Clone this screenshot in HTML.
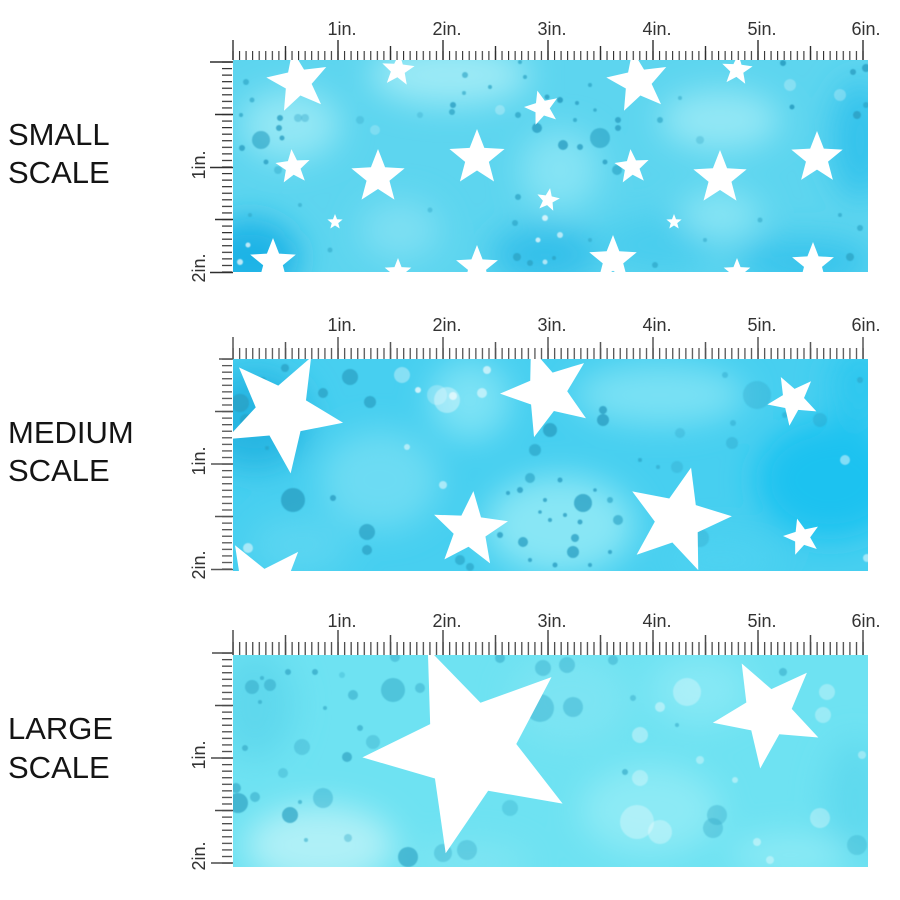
<!DOCTYPE html>
<html><head><meta charset="utf-8"><style>
html,body{margin:0;padding:0;background:#fff;}
svg{display:block;}
</style></head><body>
<svg width="900" height="900" viewBox="0 0 900 900" xmlns="http://www.w3.org/2000/svg">
<defs>
<path id="st" d="M0,-1 L0.253,-0.348 L0.951,-0.309 L0.409,0.133 L0.588,0.809 L0,0.43 L-0.588,0.809 L-0.409,0.133 L-0.951,-0.309 L-0.253,-0.348 Z"/>
<clipPath id="c1"><rect x="233" y="60" width="635" height="212"/></clipPath>
<clipPath id="c2"><rect x="233" y="359" width="635" height="212"/></clipPath>
<clipPath id="c3"><rect x="233" y="655" width="635" height="212"/></clipPath>
<filter id="bl" x="-60%" y="-60%" width="220%" height="220%"><feGaussianBlur stdDeviation="16"/></filter>
<filter id="bs" x="-50%" y="-50%" width="200%" height="200%"><feGaussianBlur stdDeviation="0.6"/></filter>
<pattern id="h1" x="232.4" y="0" width="6.5625" height="1000" patternUnits="userSpaceOnUse"><rect width="1.1" height="1000" fill="#2e2e2e"/></pattern>
<pattern id="h2" x="232.4" y="0" width="6.5625" height="1000" patternUnits="userSpaceOnUse"><rect width="1.3" height="1000" fill="#555"/></pattern>
<pattern id="h3" x="232.4" y="0" width="6.5625" height="1000" patternUnits="userSpaceOnUse"><rect width="1.3" height="1000" fill="#4a4a4a"/></pattern>
<pattern id="v1" x="0" y="61.4" width="10" height="6.5625" patternUnits="userSpaceOnUse"><rect width="10" height="1.2" fill="#2e2e2e"/></pattern>
<pattern id="v2" x="0" y="358.4" width="10" height="6.5625" patternUnits="userSpaceOnUse"><rect width="10" height="1.3" fill="#555"/></pattern>
<pattern id="v3" x="0" y="652.4" width="10" height="6.5625" patternUnits="userSpaceOnUse"><rect width="10" height="1.3" fill="#4a4a4a"/></pattern>
</defs>
<rect width="900" height="900" fill="#fff"/>

<g font-family="Liberation Sans, Arial, sans-serif" font-size="31" fill="#141414">
<text x="8" y="145">SMALL</text>
<text x="8" y="183">SCALE</text>
<text x="8" y="443">MEDIUM</text>
<text x="8" y="481">SCALE</text>
<text x="8" y="739">LARGE</text>
<text x="8" y="778">SCALE</text>
</g>

<g clip-path="url(#c1)">
<rect x="233" y="60" width="635" height="212" fill="#5dd5ef"/>
<g filter="url(#bl)">
<ellipse cx="250" cy="258" rx="50" ry="40" fill="#1fb3e6"/>
<ellipse cx="450" cy="75" rx="80" ry="30" fill="#9ceaf6"/>
<ellipse cx="290" cy="125" rx="50" ry="35" fill="#93e7f5"/>
<ellipse cx="545" cy="255" rx="55" ry="30" fill="#34c0ea"/>
<ellipse cx="560" cy="170" rx="40" ry="40" fill="#84e3f4"/>
<ellipse cx="720" cy="120" rx="60" ry="30" fill="#93e7f5"/>
<ellipse cx="860" cy="140" rx="30" ry="60" fill="#36c3ec"/>
<ellipse cx="805" cy="262" rx="70" ry="25" fill="#38c4ec"/>
<ellipse cx="400" cy="230" rx="40" ry="30" fill="#7ddff3"/>
<ellipse cx="660" cy="245" rx="60" ry="30" fill="#4acdee"/>
<ellipse cx="720" cy="215" rx="40" ry="25" fill="#86e4f4"/>
</g>
<g fill="#2a9fc2" filter="url(#bs)">
<circle cx="261" cy="140" r="9" opacity="0.6"/>
<circle cx="280" cy="118" r="3" opacity="0.8"/>
<circle cx="279" cy="128" r="3" opacity="0.8"/>
<circle cx="282" cy="138" r="2.5" opacity="0.8"/>
<circle cx="242" cy="148" r="3" opacity="0.8"/>
<circle cx="246" cy="82" r="3" opacity="0.6"/>
<circle cx="252" cy="100" r="2.5" opacity="0.6"/>
<circle cx="241" cy="115" r="2" opacity="0.7"/>
<circle cx="266" cy="162" r="2.5" opacity="0.8"/>
<circle cx="278" cy="170" r="4" opacity="0.4"/>
<circle cx="298" cy="118" r="4" opacity="0.35"/>
<circle cx="305" cy="118" r="4" opacity="0.35"/>
<circle cx="453" cy="105" r="3" opacity="0.8"/>
<circle cx="465" cy="75" r="3" opacity="0.6"/>
<circle cx="464" cy="93" r="2" opacity="0.6"/>
<circle cx="452" cy="112" r="3" opacity="0.7"/>
<circle cx="520" cy="62" r="2" opacity="0.7"/>
<circle cx="547" cy="97" r="2.5" opacity="0.8"/>
<circle cx="560" cy="100" r="3" opacity="0.9"/>
<circle cx="577" cy="103" r="2" opacity="0.8"/>
<circle cx="537" cy="128" r="5" opacity="0.8"/>
<circle cx="563" cy="145" r="5" opacity="0.8"/>
<circle cx="600" cy="138" r="10" opacity="0.6"/>
<circle cx="580" cy="147" r="3" opacity="0.8"/>
<circle cx="618" cy="120" r="3" opacity="0.8"/>
<circle cx="618" cy="128" r="3" opacity="0.8"/>
<circle cx="605" cy="162" r="2.5" opacity="0.8"/>
<circle cx="617" cy="170" r="5" opacity="0.6"/>
<circle cx="518" cy="115" r="3" opacity="0.7"/>
<circle cx="525" cy="77" r="2" opacity="0.7"/>
<circle cx="490" cy="87" r="2" opacity="0.7"/>
<circle cx="590" cy="85" r="2" opacity="0.7"/>
<circle cx="575" cy="120" r="2" opacity="0.7"/>
<circle cx="595" cy="110" r="1.8" opacity="0.7"/>
<circle cx="783" cy="63" r="3" opacity="0.9"/>
<circle cx="792" cy="107" r="2.5" opacity="0.9"/>
<circle cx="857" cy="115" r="4" opacity="0.8"/>
<circle cx="853" cy="72" r="3" opacity="0.8"/>
<circle cx="866" cy="68" r="4" opacity="0.8"/>
<circle cx="866" cy="105" r="3" opacity="0.6"/>
<circle cx="518" cy="197" r="3" opacity="0.7"/>
<circle cx="515" cy="223" r="3" opacity="0.6"/>
<circle cx="517" cy="257" r="4" opacity="0.7"/>
<circle cx="530" cy="263" r="3" opacity="0.7"/>
<circle cx="554" cy="258" r="2" opacity="0.7"/>
<circle cx="850" cy="257" r="4" opacity="0.7"/>
<circle cx="860" cy="228" r="3" opacity="0.6"/>
<circle cx="840" cy="215" r="2" opacity="0.6"/>
<circle cx="660" cy="120" r="3" opacity="0.6"/>
<circle cx="680" cy="98" r="2" opacity="0.5"/>
<circle cx="700" cy="140" r="4" opacity="0.3"/>
<circle cx="760" cy="220" r="2.5" opacity="0.5"/>
<circle cx="705" cy="240" r="2" opacity="0.5"/>
<circle cx="655" cy="265" r="3" opacity="0.6"/>
<circle cx="590" cy="240" r="2" opacity="0.5"/>
<circle cx="430" cy="210" r="2.5" opacity="0.4"/>
<circle cx="330" cy="250" r="2.5" opacity="0.5"/>
<circle cx="360" cy="120" r="4" opacity="0.3"/>
<circle cx="420" cy="115" r="3" opacity="0.3"/>
<circle cx="250" cy="215" r="2" opacity="0.5"/>
<circle cx="300" cy="205" r="2" opacity="0.5"/>
</g>
<g fill="#ffffff" filter="url(#bs)">
<circle cx="545" cy="218" r="3" opacity="0.7"/>
<circle cx="538" cy="240" r="2.5" opacity="0.7"/>
<circle cx="560" cy="235" r="3" opacity="0.6"/>
<circle cx="545" cy="262" r="2.5" opacity="0.6"/>
<circle cx="248" cy="245" r="2.5" opacity="0.7"/>
<circle cx="240" cy="262" r="3" opacity="0.7"/>
<circle cx="500" cy="110" r="5" opacity="0.25"/>
<circle cx="375" cy="130" r="5" opacity="0.2"/>
<circle cx="790" cy="85" r="6" opacity="0.25"/>
<circle cx="840" cy="95" r="6" opacity="0.25"/>
</g>
<g fill="#fff">
<use href="#st" transform="translate(298,82) rotate(-10) scale(32)"/>
<use href="#st" transform="translate(398,70) rotate(5) scale(17)"/>
<use href="#st" transform="translate(542,108) rotate(-15) scale(18)"/>
<use href="#st" transform="translate(638,82) rotate(-10) scale(32)"/>
<use href="#st" transform="translate(737,70) rotate(5) scale(16)"/>
<use href="#st" transform="translate(477,158) scale(29)"/>
<use href="#st" transform="translate(293,167) rotate(-5) scale(18)"/>
<use href="#st" transform="translate(378,177) scale(28)"/>
<use href="#st" transform="translate(632,167) rotate(-5) scale(18)"/>
<use href="#st" transform="translate(720,178) scale(28)"/>
<use href="#st" transform="translate(817,158) scale(27)"/>
<use href="#st" transform="translate(335,222) scale(8)"/>
<use href="#st" transform="translate(548,200) rotate(10) scale(12)"/>
<use href="#st" transform="translate(674,222) scale(8)"/>
<use href="#st" transform="translate(273,262) scale(24)"/>
<use href="#st" transform="translate(398,272) scale(14)"/>
<use href="#st" transform="translate(477,267) scale(22)"/>
<use href="#st" transform="translate(613,260) scale(25)"/>
<use href="#st" transform="translate(737,272) scale(14)"/>
<use href="#st" transform="translate(813,264) scale(22)"/>
</g>
</g>

<rect x="232" y="51" width="633" height="9" fill="url(#h1)"/>
<g stroke="#2e2e2e" stroke-width="1.4">
<line x1="233" y1="40" x2="233" y2="60"/>
<line x1="338" y1="40" x2="338" y2="60"/>
<line x1="443" y1="40" x2="443" y2="60"/>
<line x1="548" y1="40" x2="548" y2="60"/>
<line x1="653" y1="40" x2="653" y2="60"/>
<line x1="758" y1="40" x2="758" y2="60"/>
<line x1="863" y1="40" x2="863" y2="60"/>
<line x1="285.5" y1="46" x2="285.5" y2="60"/>
<line x1="390.5" y1="46" x2="390.5" y2="60"/>
<line x1="495.5" y1="46" x2="495.5" y2="60"/>
<line x1="600.5" y1="46" x2="600.5" y2="60"/>
<line x1="705.5" y1="46" x2="705.5" y2="60"/>
<line x1="810.5" y1="46" x2="810.5" y2="60"/>
</g>
<rect x="222" y="61" width="10" height="212" fill="url(#v1)"/>
<g stroke="#2e2e2e" stroke-width="1.5">
<line x1="210" y1="62" x2="233" y2="62"/>
<line x1="210" y1="167.5" x2="233" y2="167.5"/>
<line x1="210" y1="272.5" x2="233" y2="272.5"/>
<line x1="215" y1="114.5" x2="233" y2="114.5"/>
<line x1="215" y1="219.5" x2="233" y2="219.5"/>
</g>
<g font-family="Liberation Sans, Arial, sans-serif" font-size="18" fill="#333" text-anchor="middle">
<text x="342" y="35">1in.</text>
<text x="447" y="35">2in.</text>
<text x="552" y="35">3in.</text>
<text x="657" y="35">4in.</text>
<text x="762" y="35">5in.</text>
<text x="866" y="35">6in.</text>
<text transform="translate(205,165) rotate(-90)">1in.</text>
<text transform="translate(205,268) rotate(-90)">2in.</text>
</g>

<g clip-path="url(#c2)">
<rect x="233" y="359" width="635" height="212" fill="#47cff0"/>
<g filter="url(#bl)">
<ellipse cx="255" cy="420" rx="55" ry="50" fill="#28b6e2"/>
<ellipse cx="380" cy="480" rx="60" ry="50" fill="#6cdbf3"/>
<ellipse cx="560" cy="525" rx="75" ry="50" fill="#88e6f5"/>
<ellipse cx="660" cy="395" rx="85" ry="30" fill="#7ae1f4"/>
<ellipse cx="830" cy="480" rx="75" ry="60" fill="#1cc2f0"/>
<ellipse cx="860" cy="385" rx="30" ry="40" fill="#2ec7ef"/>
<ellipse cx="300" cy="545" rx="50" ry="30" fill="#5ad5f1"/>
<ellipse cx="470" cy="400" rx="40" ry="40" fill="#7ce2f5"/>
<ellipse cx="720" cy="560" rx="60" ry="25" fill="#4ed2f1"/>
</g>
<g fill="#2a9ec2" filter="url(#bs)">
<circle cx="350" cy="377" r="8" opacity="0.7"/>
<circle cx="285" cy="368" r="4" opacity="0.7"/>
<circle cx="323" cy="393" r="5" opacity="0.7"/>
<circle cx="370" cy="402" r="6" opacity="0.7"/>
<circle cx="293" cy="500" r="12" opacity="0.75"/>
<circle cx="333" cy="498" r="3" opacity="0.8"/>
<circle cx="367" cy="532" r="8" opacity="0.7"/>
<circle cx="367" cy="550" r="5" opacity="0.7"/>
<circle cx="240" cy="403" r="9" opacity="0.7"/>
<circle cx="246" cy="420" r="6" opacity="0.6"/>
<circle cx="263" cy="380" r="3" opacity="0.6"/>
<circle cx="267" cy="448" r="2" opacity="0.6"/>
<circle cx="603" cy="420" r="6" opacity="0.8"/>
<circle cx="603" cy="410" r="4" opacity="0.8"/>
<circle cx="550" cy="430" r="7" opacity="0.75"/>
<circle cx="535" cy="450" r="6" opacity="0.6"/>
<circle cx="530" cy="478" r="5" opacity="0.6"/>
<circle cx="583" cy="503" r="9" opacity="0.75"/>
<circle cx="580" cy="522" r="2.5" opacity="0.8"/>
<circle cx="508" cy="493" r="2" opacity="0.8"/>
<circle cx="520" cy="490" r="3" opacity="0.8"/>
<circle cx="545" cy="500" r="2" opacity="0.8"/>
<circle cx="560" cy="480" r="2.5" opacity="0.8"/>
<circle cx="500" cy="535" r="3" opacity="0.8"/>
<circle cx="523" cy="542" r="5" opacity="0.75"/>
<circle cx="573" cy="552" r="6" opacity="0.75"/>
<circle cx="575" cy="538" r="4" opacity="0.75"/>
<circle cx="610" cy="552" r="2" opacity="0.8"/>
<circle cx="618" cy="520" r="5" opacity="0.6"/>
<circle cx="610" cy="500" r="3" opacity="0.6"/>
<circle cx="550" cy="520" r="2" opacity="0.8"/>
<circle cx="540" cy="512" r="1.8" opacity="0.8"/>
<circle cx="565" cy="515" r="2" opacity="0.8"/>
<circle cx="595" cy="490" r="1.8" opacity="0.8"/>
<circle cx="530" cy="560" r="2" opacity="0.8"/>
<circle cx="555" cy="565" r="2.5" opacity="0.8"/>
<circle cx="590" cy="565" r="2" opacity="0.8"/>
<circle cx="640" cy="460" r="2" opacity="0.6"/>
<circle cx="732" cy="443" r="6" opacity="0.35"/>
<circle cx="733" cy="423" r="3" opacity="0.4"/>
<circle cx="725" cy="375" r="3" opacity="0.4"/>
<circle cx="757" cy="395" r="14" opacity="0.3"/>
<circle cx="820" cy="420" r="7" opacity="0.35"/>
<circle cx="785" cy="415" r="3" opacity="0.4"/>
<circle cx="680" cy="433" r="5" opacity="0.3"/>
<circle cx="677" cy="467" r="6" opacity="0.3"/>
<circle cx="700" cy="538" r="9" opacity="0.3"/>
<circle cx="658" cy="467" r="2" opacity="0.5"/>
<circle cx="460" cy="560" r="5" opacity="0.6"/>
<circle cx="470" cy="567" r="4" opacity="0.6"/>
<circle cx="860" cy="380" r="3" opacity="0.5"/>
</g>
<g fill="#ffffff" filter="url(#bs)">
<circle cx="402" cy="375" r="8" opacity="0.35"/>
<circle cx="418" cy="390" r="3" opacity="0.7"/>
<circle cx="447" cy="400" r="13" opacity="0.35"/>
<circle cx="453" cy="396" r="4" opacity="0.6"/>
<circle cx="407" cy="447" r="3" opacity="0.5"/>
<circle cx="443" cy="485" r="4" opacity="0.5"/>
<circle cx="248" cy="548" r="5" opacity="0.5"/>
<circle cx="487" cy="370" r="4" opacity="0.6"/>
<circle cx="482" cy="393" r="5" opacity="0.5"/>
<circle cx="845" cy="460" r="5" opacity="0.45"/>
<circle cx="867" cy="558" r="4" opacity="0.5"/>
<circle cx="437" cy="395" r="10" opacity="0.25"/>
</g>
<g fill="#fff">
<use href="#st" transform="translate(282,412) rotate(28) scale(62)"/>
<use href="#st" transform="translate(547,392) rotate(-20) scale(47)"/>
<use href="#st" transform="translate(793,400) rotate(-28) scale(26)"/>
<use href="#st" transform="translate(470,530) rotate(5) scale(39)"/>
<use href="#st" transform="translate(678,520) rotate(14) scale(54)"/>
<use href="#st" transform="translate(802,537) rotate(-15) scale(19)"/>
<use href="#st" transform="translate(262,592) rotate(-30) scale(54)"/>
</g>
</g>

<rect x="232" y="348" width="633" height="11" fill="url(#h2)"/>
<g stroke="#555" stroke-width="1.5">
<line x1="233" y1="337" x2="233" y2="359"/>
<line x1="338" y1="337" x2="338" y2="359"/>
<line x1="443" y1="337" x2="443" y2="359"/>
<line x1="548" y1="337" x2="548" y2="359"/>
<line x1="653" y1="337" x2="653" y2="359"/>
<line x1="758" y1="337" x2="758" y2="359"/>
<line x1="863" y1="337" x2="863" y2="359"/>
<line x1="285.5" y1="342" x2="285.5" y2="359"/>
<line x1="390.5" y1="342" x2="390.5" y2="359"/>
<line x1="495.5" y1="342" x2="495.5" y2="359"/>
<line x1="600.5" y1="342" x2="600.5" y2="359"/>
<line x1="705.5" y1="342" x2="705.5" y2="359"/>
<line x1="810.5" y1="342" x2="810.5" y2="359"/>
</g>
<rect x="222" y="358" width="10" height="213" fill="url(#v2)"/>
<g stroke="#555" stroke-width="1.5">
<line x1="219" y1="359" x2="233" y2="359"/>
<line x1="211" y1="464" x2="233" y2="464"/>
<line x1="211" y1="569.5" x2="233" y2="569.5"/>
<line x1="215" y1="411.5" x2="233" y2="411.5"/>
<line x1="215" y1="516.5" x2="233" y2="516.5"/>
</g>
<g font-family="Liberation Sans, Arial, sans-serif" font-size="18" fill="#333" text-anchor="middle">
<text x="342" y="331">1in.</text>
<text x="447" y="331">2in.</text>
<text x="552" y="331">3in.</text>
<text x="657" y="331">4in.</text>
<text x="762" y="331">5in.</text>
<text x="866" y="331">6in.</text>
<text transform="translate(205,461) rotate(-90)">1in.</text>
<text transform="translate(205,565) rotate(-90)">2in.</text>
</g>

<g clip-path="url(#c3)">
<rect x="233" y="655" width="635" height="212" fill="#6ee2f2"/>
<g filter="url(#bl)">
<ellipse cx="320" cy="845" rx="75" ry="40" fill="#aff0f7"/>
<ellipse cx="255" cy="705" rx="40" ry="55" fill="#5fd8ed"/>
<ellipse cx="570" cy="700" rx="60" ry="45" fill="#7ce4f3"/>
<ellipse cx="650" cy="810" rx="70" ry="45" fill="#8ceaf5"/>
<ellipse cx="855" cy="800" rx="30" ry="60" fill="#5ed9ee"/>
<ellipse cx="470" cy="862" rx="60" ry="20" fill="#7ee5f3"/>
<ellipse cx="790" cy="855" rx="60" ry="20" fill="#8ceaf5"/>
<ellipse cx="700" cy="690" rx="50" ry="35" fill="#85e8f5"/>
</g>
<g fill="#37abc9" filter="url(#bs)">
<circle cx="252" cy="687" r="7" opacity="0.6"/>
<circle cx="270" cy="685" r="6" opacity="0.6"/>
<circle cx="260" cy="702" r="2" opacity="0.7"/>
<circle cx="288" cy="672" r="3" opacity="0.8"/>
<circle cx="262" cy="678" r="2" opacity="0.7"/>
<circle cx="315" cy="672" r="3" opacity="0.8"/>
<circle cx="342" cy="675" r="3" opacity="0.35"/>
<circle cx="353" cy="695" r="5" opacity="0.6"/>
<circle cx="393" cy="690" r="12" opacity="0.55"/>
<circle cx="420" cy="688" r="5" opacity="0.5"/>
<circle cx="395" cy="657" r="5" opacity="0.5"/>
<circle cx="325" cy="708" r="2" opacity="0.7"/>
<circle cx="360" cy="728" r="3" opacity="0.7"/>
<circle cx="373" cy="742" r="7" opacity="0.4"/>
<circle cx="302" cy="747" r="8" opacity="0.4"/>
<circle cx="347" cy="757" r="5" opacity="0.8"/>
<circle cx="245" cy="748" r="3" opacity="0.7"/>
<circle cx="283" cy="773" r="5" opacity="0.4"/>
<circle cx="238" cy="803" r="10" opacity="0.8"/>
<circle cx="236" cy="788" r="5" opacity="0.7"/>
<circle cx="255" cy="797" r="5" opacity="0.6"/>
<circle cx="290" cy="815" r="8" opacity="0.8"/>
<circle cx="323" cy="798" r="10" opacity="0.45"/>
<circle cx="300" cy="802" r="2" opacity="0.7"/>
<circle cx="306" cy="840" r="2" opacity="0.6"/>
<circle cx="348" cy="838" r="4" opacity="0.4"/>
<circle cx="408" cy="857" r="10" opacity="0.75"/>
<circle cx="443" cy="853" r="9" opacity="0.4"/>
<circle cx="467" cy="850" r="10" opacity="0.4"/>
<circle cx="543" cy="668" r="8" opacity="0.45"/>
<circle cx="567" cy="665" r="8" opacity="0.45"/>
<circle cx="540" cy="708" r="14" opacity="0.45"/>
<circle cx="573" cy="707" r="10" opacity="0.45"/>
<circle cx="613" cy="660" r="5" opacity="0.5"/>
<circle cx="633" cy="698" r="3" opacity="0.5"/>
<circle cx="625" cy="772" r="3" opacity="0.7"/>
<circle cx="510" cy="808" r="8" opacity="0.35"/>
<circle cx="717" cy="815" r="10" opacity="0.4"/>
<circle cx="713" cy="828" r="10" opacity="0.4"/>
<circle cx="857" cy="845" r="10" opacity="0.35"/>
<circle cx="783" cy="672" r="4" opacity="0.6"/>
<circle cx="677" cy="725" r="2" opacity="0.6"/>
<circle cx="500" cy="658" r="5" opacity="0.6"/>
</g>
<g fill="#ffffff" filter="url(#bs)">
<circle cx="660" cy="707" r="5" opacity="0.4"/>
<circle cx="687" cy="692" r="14" opacity="0.3"/>
<circle cx="640" cy="735" r="8" opacity="0.35"/>
<circle cx="640" cy="778" r="8" opacity="0.3"/>
<circle cx="637" cy="822" r="17" opacity="0.3"/>
<circle cx="660" cy="832" r="12" opacity="0.3"/>
<circle cx="757" cy="842" r="4" opacity="0.4"/>
<circle cx="770" cy="860" r="4" opacity="0.35"/>
<circle cx="820" cy="818" r="10" opacity="0.3"/>
<circle cx="827" cy="692" r="8" opacity="0.3"/>
<circle cx="823" cy="715" r="8" opacity="0.3"/>
<circle cx="862" cy="755" r="4" opacity="0.35"/>
<circle cx="735" cy="780" r="3" opacity="0.4"/>
<circle cx="700" cy="760" r="4" opacity="0.35"/>
</g>
<g fill="#fff">
<use href="#st" transform="translate(470,748) rotate(-23) scale(108)"/>
<use href="#st" transform="translate(768,713) rotate(-28) scale(56)"/>
</g>
</g>

<rect x="232" y="642" width="633" height="13" fill="url(#h3)"/>
<g stroke="#4a4a4a" stroke-width="1.5">
<line x1="233" y1="630" x2="233" y2="655"/>
<line x1="338" y1="630" x2="338" y2="655"/>
<line x1="443" y1="630" x2="443" y2="655"/>
<line x1="548" y1="630" x2="548" y2="655"/>
<line x1="653" y1="630" x2="653" y2="655"/>
<line x1="758" y1="630" x2="758" y2="655"/>
<line x1="863" y1="630" x2="863" y2="655"/>
<line x1="285.5" y1="635" x2="285.5" y2="655"/>
<line x1="390.5" y1="635" x2="390.5" y2="655"/>
<line x1="495.5" y1="635" x2="495.5" y2="655"/>
<line x1="600.5" y1="635" x2="600.5" y2="655"/>
<line x1="705.5" y1="635" x2="705.5" y2="655"/>
<line x1="810.5" y1="635" x2="810.5" y2="655"/>
</g>
<rect x="222" y="652" width="10" height="212" fill="url(#v3)"/>
<g stroke="#4a4a4a" stroke-width="1.6">
<line x1="212" y1="653" x2="233" y2="653"/>
<line x1="211" y1="758" x2="233" y2="758"/>
<line x1="211" y1="863" x2="233" y2="863"/>
<line x1="215" y1="705.5" x2="233" y2="705.5"/>
<line x1="215" y1="810.5" x2="233" y2="810.5"/>
</g>
<g font-family="Liberation Sans, Arial, sans-serif" font-size="18" fill="#333" text-anchor="middle">
<text x="342" y="627">1in.</text>
<text x="447" y="627">2in.</text>
<text x="552" y="627">3in.</text>
<text x="657" y="627">4in.</text>
<text x="762" y="627">5in.</text>
<text x="866" y="627">6in.</text>
<text transform="translate(205,755) rotate(-90)">1in.</text>
<text transform="translate(205,856) rotate(-90)">2in.</text>
</g>
</svg>
</body></html>
